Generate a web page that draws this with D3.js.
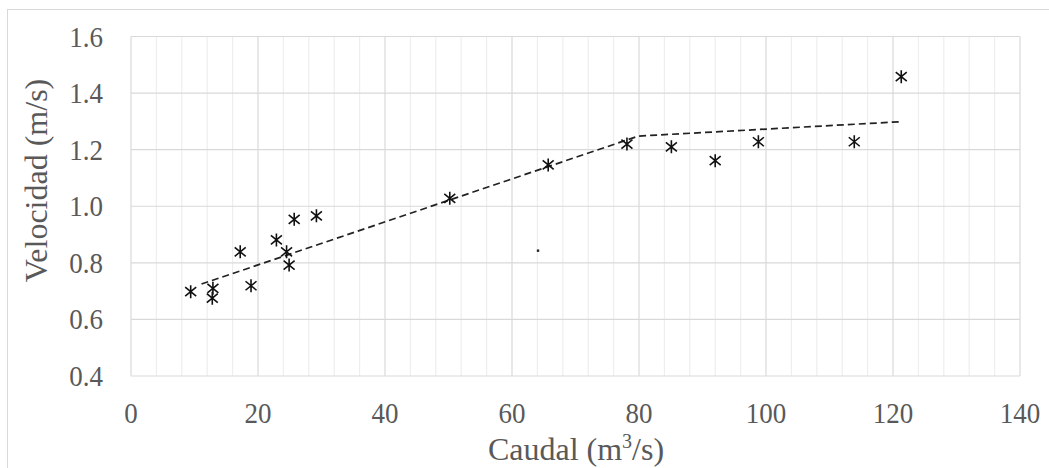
<!DOCTYPE html>
<html>
<head>
<meta charset="utf-8">
<script src="https://cdn.jsdelivr.net/npm/d3@7"></script>
<style>
  body { margin: 0; background: #fff; }
</style>
</head>
<body>
<div class="chart"></div>
<script>
// measured points
const caudal = [9.4, 12.9, 12.8, 17.2, 18.9, 22.9, 24.5, 24.9, 25.7, 29.2, 50.2, 65.7, 78.1, 85.1, 92.0, 98.8, 113.9, 121.3]
const velocidad = [0.698, 0.71, 0.675, 0.839, 0.719, 0.881, 0.839, 0.792, 0.954, 0.966, 1.028, 1.146, 1.220, 1.210, 1.161, 1.228, 1.228, 1.458]
// fitted (dashed) line
const fitX = [11.1, 79.9, 121.4]
const fitY = [0.725, 1.248, 1.299]
// stray dot
const strayX = [64.1]
const strayY = [0.843]

const xTicks = [0, 20, 40, 60, 80, 100, 120, 140]
const yTicks = [0.4, 0.6, 0.8, 1.0, 1.2, 1.4, 1.6]
const xMinor = d3.range(0, 141, 4)

const W = 1049, H = 468
const FONT = "'Liberation Serif', 'Times New Roman', Times, serif"
const svg = d3.select('.chart').append('svg')
  .attr('width', W).attr('height', H)
  .style('font-family', FONT)

svg.append('rect')
  .attr('x', 7.5).attr('y', 9.5)
  .attr('width', W + 10).attr('height', H + 10)
  .attr('fill', '#fff').attr('stroke', '#d9d9d9')

const x = d3.scaleLinear().domain([0, 140]).range([131, 1020])
const y = d3.scaleLinear().domain([0.4, 1.6]).range([376, 36.5])

// minor vertical grid
svg.append('g').selectAll('line').data(xMinor.filter(d => d % 20 !== 0)).join('line')
  .attr('x1', d => x(d)).attr('x2', d => x(d))
  .attr('y1', y(1.6)).attr('y2', y(0.4))
  .attr('stroke', '#eeeeee').attr('stroke-width', 1.2)

// major grid
svg.append('g').selectAll('line').data(xTicks).join('line')
  .attr('x1', d => x(d)).attr('x2', d => x(d))
  .attr('y1', y(1.6)).attr('y2', y(0.4))
  .attr('stroke', '#d9d9d9').attr('stroke-width', 1.2)
svg.append('g').selectAll('line').data(yTicks).join('line')
  .attr('x1', x(0)).attr('x2', x(140))
  .attr('y1', d => y(d)).attr('y2', d => y(d))
  .attr('stroke', '#d9d9d9').attr('stroke-width', 1.2)

// tick labels (source image is slightly stretched vertically)
svg.append('g').selectAll('text').data(yTicks).join('text')
  .attr('transform', d => `translate(103,${y(d) + 10}) scale(1,1.12)`)
  .attr('text-anchor', 'end').attr('font-size', 27)
  .attr('font-family', FONT).attr('fill', '#595959')
  .text(d => d.toFixed(1))
svg.append('g').selectAll('text').data(xTicks).join('text')
  .attr('transform', d => `translate(${x(d)},423) scale(1,1.12)`)
  .attr('text-anchor', 'middle').attr('font-size', 27)
  .attr('font-family', FONT).attr('fill', '#595959')
  .text(d => d)

// axis titles
svg.append('text')
  .attr('transform', 'translate(47,180.5) rotate(-90)')
  .attr('text-anchor', 'middle').attr('font-size', 32)
  .attr('font-family', FONT).attr('fill', '#595959')
  .text('Velocidad (m/s)')
const xt = svg.append('text')
  .attr('x', 576).attr('y', 460)
  .attr('text-anchor', 'middle').attr('font-size', 32)
  .attr('font-family', FONT).attr('fill', '#595959')
xt.append('tspan').text('Caudal (m')
xt.append('tspan').attr('font-size', 20).attr('dy', -12).text('3')
xt.append('tspan').attr('dy', 12).text('/s)')

// dashed fit line
const line = d3.line().x(d => x(d[0])).y(d => y(d[1]))
svg.append('path')
  .datum(d3.zip(fitX, fitY))
  .attr('d', line)
  .attr('fill', 'none').attr('stroke', '#222')
  .attr('stroke-width', 1.7).attr('stroke-dasharray', '7,4')

// asterisk markers
const star = 'M0,-6.5L0,6.5M-5.5,-4.5L5.5,4.5M-5.5,4.5L5.5,-4.5'
svg.append('g').selectAll('path').data(d3.zip(caudal, velocidad)).join('path')
  .attr('transform', d => `translate(${x(d[0])},${y(d[1])})`)
  .attr('d', star)
  .attr('fill', 'none').attr('stroke', '#111').attr('stroke-width', 1.6)

// stray dot
svg.append('g').selectAll('rect').data(d3.zip(strayX, strayY)).join('rect')
  .attr('x', d => x(d[0]) - 1.2).attr('y', d => y(d[1]) - 1.2)
  .attr('width', 2.4).attr('height', 2.4).attr('fill', '#222')
</script>
</body>
</html>
